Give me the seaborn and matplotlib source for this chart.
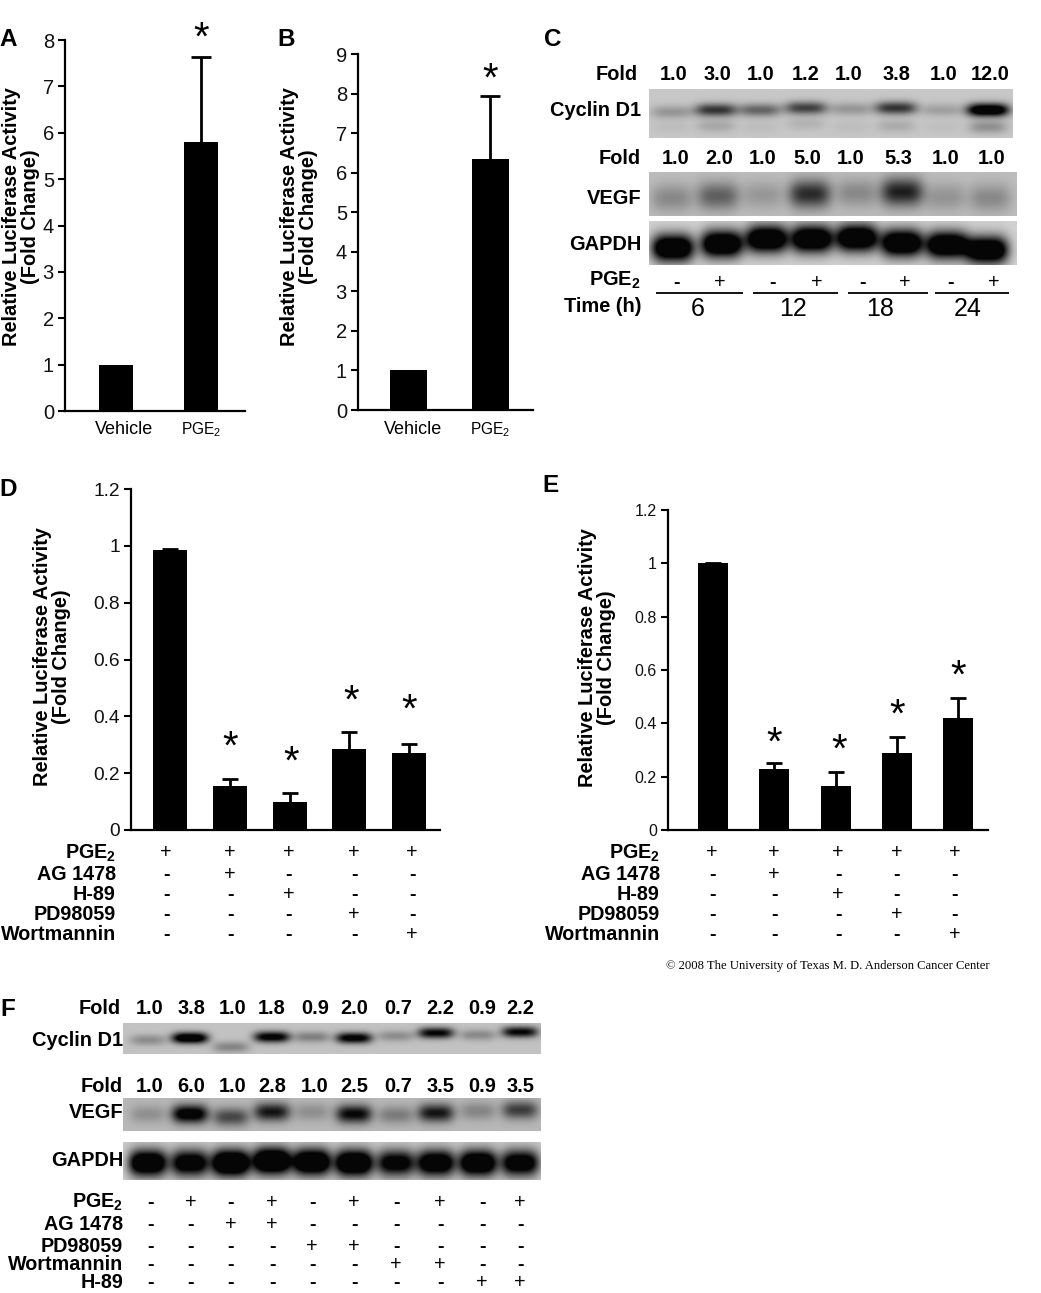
import numpy as np
import pandas as pd
import matplotlib
matplotlib.use("Agg")
import matplotlib.pyplot as plt
import seaborn as sns

sns.set_theme(style="white")
plt.rcParams.update({
    "font.family": ["Liberation Sans", "DejaVu Sans"],
    "mathtext.fontset": "custom",
    "mathtext.rm": "Liberation Sans",
    "mathtext.bf": "Liberation Sans:bold",
    "mathtext.default": "regular",
})

W, H = 1041, 1293

# ---------- bar data ----------
cats_ab = ["Vehicle", "PGE$_2$"]
a_vals = [1.0, 5.8]
a_err = [0.0, 1.83]
b_vals = [1.0, 6.35]
b_err = [0.0, 1.6]
cats_de = ["PGE2", "AG 1478", "H-89", "PD98059", "Wortmannin"]
d_vals = [0.985, 0.155, 0.10, 0.285, 0.27]
d_err = [0.004, 0.025, 0.03, 0.06, 0.033]
e_vals = [1.0, 0.23, 0.165, 0.29, 0.42]
e_err = [0.003, 0.02, 0.052, 0.06, 0.075]

# ---------- treatment tables ----------
de_rows_d = ["PGE$_2$", "AG 1478", "H-89", "PD98059", "Wortmannin"]
d_table = ["+++++", "-+---", "--+--", "---+-", "----+"]
f_rows = ["PGE$_2$", "AG 1478", "PD98059", "Wortmannin", "H-89"]
f_table = ["-+-+-+-+-+", "--++------", "----++----", "------++--", "--------++"]
c_pge = ["-", "+", "-", "+", "-", "+", "-", "+"]
c_times = ["6", "12", "18", "24"]

# ---------- blot annotations ----------
c_fold1 = ["1.0", "3.0", "1.0", "1.2", "1.0", "3.8", "1.0", "12.0"]
c_fold2 = ["1.0", "2.0", "1.0", "5.0", "1.0", "5.3", "1.0", "1.0"]
f_fold1 = ["1.0", "3.8", "1.0", "1.8", "0.9", "2.0", "0.7", "2.2", "0.9", "2.2"]
f_fold2 = ["1.0", "6.0", "1.0", "2.8", "1.0", "2.5", "0.7", "3.5", "0.9", "3.5"]

# band darkness read from the blots
c_cyclin = [0.25, 0.75, 0.5, 0.68, 0.25, 0.75, 0.2, 1.35]
c_cyclin_low = [0.05, 0.16, 0.05, 0.10, 0.05, 0.14, 0.04, 0.28]
c_vegf = [0.28, 0.50, 0.20, 0.78, 0.28, 0.85, 0.22, 0.28]
c_gapdh = [1.5, 1.5, 1.5, 1.5, 1.5, 1.5, 1.5, 1.5]
f_cyclin = [0.28, 1.3, 0.32, 1.1, 0.35, 1.1, 0.28, 1.0, 0.3, 1.0]
f_vegf = [0.22, 1.2, 0.62, 0.9, 0.22, 1.0, 0.33, 0.9, 0.28, 0.68]
f_gapdh = [1.5, 1.3, 1.7, 1.7, 1.6, 1.6, 1.2, 1.4, 1.5, 1.3]


def axes_px(l, t, r, b, **kw):
    return fig.add_axes([l / W, 1 - b / H, (r - l) / W, (b - t) / H], **kw)


fig = plt.figure(figsize=(W / 100, H / 100), dpi=100, facecolor="white")


def bar_panel(box, cats, vals, errs, ymax, yticks, ticklabels, centres, bw,
              fs, label_x, label_y, cap):
    l, t, r, b = box
    ax = axes_px(l, t, r, b)
    df = pd.DataFrame({"c": cats, "v": vals})
    step = (centres[-1] - centres[0]) / (len(centres) - 1)
    sns.barplot(data=df, x="c", y="v", color="black", saturation=1, width=bw / step,
                errorbar=None, ax=ax, linewidth=0)
    for i, (v, e) in enumerate(zip(vals, errs)):
        if e > 0:
            ax.vlines(i, v, v + e, color="black", lw=2.0, clip_on=False)
            ax.plot([i], [v + e], marker="_", ms=cap, mew=2.0, color="black", clip_on=False)
    ax.set_xlim((l - centres[0]) / step, (r - centres[0]) / step)
    ax.set_ylim(0, ymax)
    ax.set_yticks(yticks)
    ax.set_yticklabels(ticklabels, fontsize=fs, color="#111111")
    ax.set_xticks([])
    ax.set_xlabel("")
    sns.despine(ax=ax)
    for s in ("left", "bottom"):
        ax.spines[s].set_linewidth(1.6)
        ax.spines[s].set_color("black")
    ax.tick_params(axis="y", length=5, width=1.5, color="black", pad=3, left=True)
    ax.set_ylabel("Relative Luciferase Activity\n(Fold Change)", fontsize=14.4,
                  fontweight="bold", color="black", va="center", linespacing=0.95)
    ax.yaxis.set_label_coords((label_x - l) / (r - l), (b - label_y) / (b - t))
    ax.patch.set_alpha(0)
    return ax


bar_panel((65, 40, 245, 411), cats_ab, a_vals, a_err, 8, range(9),
          [str(i) for i in range(9)], [116, 201], 34, 14.5, 21, 217, 14)
bar_panel((358, 54, 533, 410), cats_ab, b_vals, b_err, 9, range(10),
          [str(i) for i in range(10)], [408, 490], 37, 14.5, 299, 217, 14)
yt = [0, 0.2, 0.4, 0.6, 0.8, 1.0, 1.2]
ytl = ["0", "0.2", "0.4", "0.6", "0.8", "1", "1.2"]
bar_panel((131, 489, 440, 830), cats_de, d_vals, d_err, 1.2, yt, ytl,
          [170, 231, 291, 350, 409], 34, 13.8, 52, 657, 12)
bar_panel((668, 510, 988, 830), cats_de, e_vals, e_err, 1.2, yt, ytl,
          [713, 775, 840, 900, 958], 30, 11.5, 597, 658, 12)


def blot(box, bg, bands):
    """bands: list of (centres, ys, darkness, half-width, half-height)"""
    l, t, r, b = box
    xs, ys = np.meshgrid(np.arange(l, r) + 0.5, np.arange(t, b) + 0.5)
    dark = np.zeros_like(xs, dtype=float)
    for cx, cy, amp, hw, hh in bands:
        for x0, y0, a in zip(cx, cy, amp):
            dark += a * np.exp(-np.abs((xs - x0) / hw) ** 3.5) * np.exp(-((ys - y0) / hh) ** 2)
    img = np.clip(bg * (1 - dark), 0.02, 1)
    ax = axes_px(l, t, r, b)
    sns.heatmap(img, cmap="gray", vmin=0, vmax=1, cbar=False, xticklabels=False,
                yticklabels=False, ax=ax, rasterized=True)
    ax.set_xticks([])
    ax.set_yticks([])
    for s in ax.spines.values():
        s.set_visible(False)


# blots of panel C
cyc_x = [672, 716, 760, 806, 851, 896, 942, 988]
blot((649, 89, 1013, 138), 0.78, [
    (cyc_x, [112, 110, 110, 108, 109, 108, 110, 110], c_cyclin, 21, 6.5),
    (cyc_x, [127, 126, 127, 124, 127, 126, 127, 127], c_cyclin_low, 19, 6.5),
])
veg_x = [672, 718, 763, 810, 857, 902, 945, 990]
blot((649, 172, 1017, 216), 0.74, [
    (veg_x, [198, 196, 195, 194, 193, 192, 197, 198], c_vegf, 21, 14),
])
gap_x = [673, 722, 767, 812, 857, 902, 947, 987]
blot((649, 221, 1017, 265), 0.82, [
    (gap_x, [248, 244, 239, 239, 238, 243, 245, 250], c_gapdh, 21, 13.5),
])
# blots of panel F
f_x = [148, 190, 231, 272, 312, 354, 396, 436, 478, 520]
blot((123, 1023, 541, 1054), 0.76, [
    (f_x, [1040, 1038, 1047, 1037, 1037, 1038, 1036, 1033, 1035, 1032], f_cyclin, 18, 5.5),
])
blot((123, 1098, 541, 1131), 0.72, [
    (f_x, [1114, 1114, 1117, 1112, 1112, 1114, 1115, 1113, 1111, 1110], f_vegf, 18, 9),
])
blot((123, 1142, 541, 1180), 0.80, [
    (f_x, [1163, 1163, 1163, 1161, 1162, 1163, 1163, 1163, 1163, 1163], f_gapdh, 19, 13),
])

# overlay in pixel coordinates for annotations
ov = fig.add_axes([0, 0, 1, 1], zorder=10)
ov.set_xlim(0, W)
ov.set_ylim(H, 0)
ov.axis("off")


def T(x, y, s, size=14.4, weight="bold", ha="center", family=None, color="black"):
    kw = {"family": family} if family else {}
    if weight == "bold" and "$" in s:
        s = s.replace("$_2$", r"$\mathbf{_2}$")
    ov.text(x, y, s, fontsize=size, fontweight=weight, ha=ha, va="center", color=color, **kw)


def mark(x, y, m):
    T(x, y, m, size=14.2, weight="normal" if m == "+" else "bold")


for x, y, s in [(8, 39, "A"), (286, 39, "B"), (553, 39, "C"), (8, 490, "D"), (551, 485, "E"), (8, 1010, "F")]:
    T(x, y, s, size=17.5)

for xs in ([124, 201], [413, 490]):
    T(xs[0], 430, cats_ab[0], size=13, weight="normal")
    T(xs[1], 430, cats_ab[1], size=11.2, weight="normal")

stars = [(201, 32), (490, 73), (230, 741), (291, 756), (351, 695), (409, 704),
         (774, 737), (839, 744), (897, 709), (958, 670)]
for x, y in stars:
    T(x, y + 7, "*", size=29, weight="normal")

# treatment rows of D and E
for right, xs, ys, in [(116, [166, 230, 289, 354, 412], [853, 874, 895, 915, 934]),
                       (660, [712, 774, 838, 897, 955], [853, 875, 894, 915, 934])]:
    for y, name, row in zip(ys, de_rows_d, d_table):
        T(right, y, name, size=14.2, ha="right")
        for x, m in zip(xs, row):
            mark(x, y, m)

# treatment rows of F
f_mx = [150, 191, 231, 272, 312, 354, 396, 440, 482, 520]
for y, name, row in zip([1202, 1225, 1246, 1265, 1283], f_rows, f_table):
    T(123, y, name, size=14.2, ha="right")
    for x, m in zip(f_mx, row):
        mark(x, y, m)

# panel C labels
T(638, 75, "Fold", ha="right")
T(641, 111, "Cyclin D1", ha="right")
T(641, 159, "Fold", ha="right")
T(641, 199, "VEGF", ha="right")
T(641, 245, "GAPDH", ha="right")
T(641, 280, "PGE$_2$", ha="right")
T(641, 307, "Time (h)", ha="right")
for x, s in zip([674, 717, 761, 806, 849, 896, 944, 990], c_fold1):
    T(x, 74, s)
for x, s in zip([676, 719, 763, 807, 851, 898, 946, 992], c_fold2):
    T(x, 158, s)
for x, m in zip([676, 720, 773, 817, 862, 905, 951, 994], c_pge):
    mark(x, 282, m)
for (x0, x1) in [(656, 743), (753, 838), (848, 928), (935, 1009)]:
    ov.plot([x0, x1], [293, 293], color="black", lw=1.3, solid_capstyle="butt")
for x, s in zip([698, 793, 880, 968], c_times):
    T(x, 309, s, size=18, weight="normal")

# panel F labels
T(121, 1009, "Fold", ha="right")
T(123, 1040, "Cyclin D1", ha="right")
T(123, 1086, "Fold", ha="right")
T(123, 1113, "VEGF", ha="right")
T(123, 1161, "GAPDH", ha="right")
f_lx = [150, 191, 233, 272, 315, 354, 398, 440, 482, 520]
for x, s in zip(f_lx, f_fold1):
    T(x, 1009, s)
for x, s in zip(f_lx, f_fold2):
    T(x, 1086, s)

T(828, 966, "\u00a9 2008 The University of Texas M. D. Anderson Cancer Center",
  size=9.05, weight="normal", family="Liberation Serif")

fig.savefig("out.png", dpi=100, facecolor="white")
